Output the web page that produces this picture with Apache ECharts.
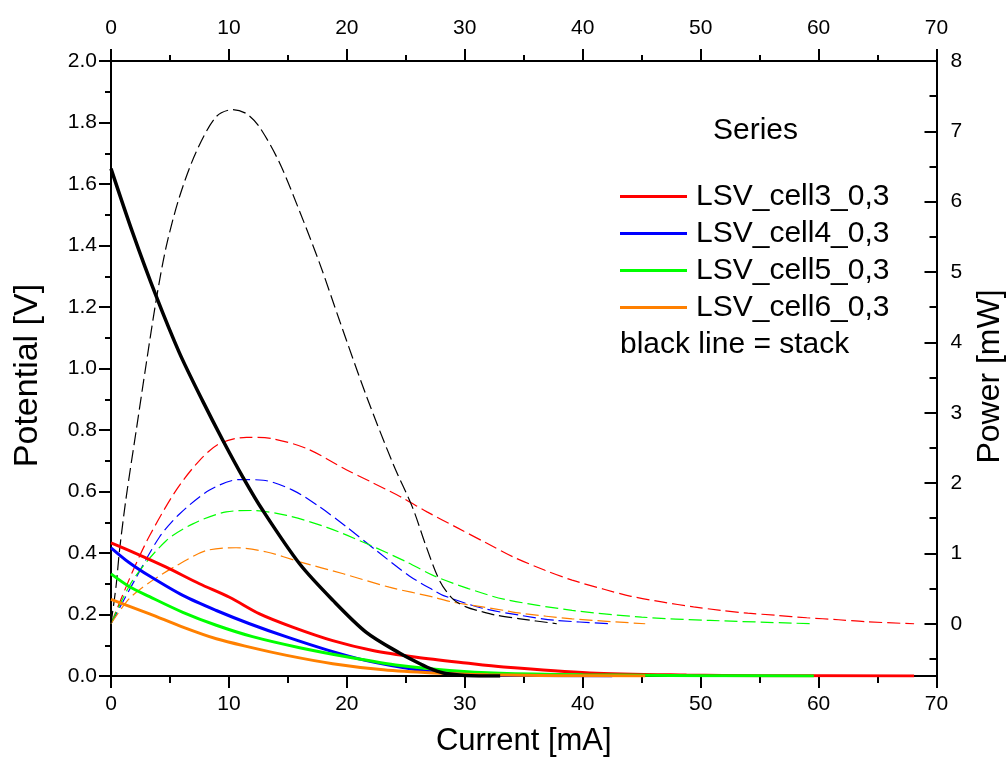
<!DOCTYPE html>
<html>
<head>
<meta charset="utf-8">
<script src="https://cdn.jsdelivr.net/npm/echarts@6/dist/echarts.min.js"></script>
<style>
html,body{margin:0;padding:0;background:#fff;overflow:hidden;}
#chart{width:1007px;height:758px;}
</style>
</head>
<body>
<div id="chart"></div>
<script>
// ---------- data ----------
const seriesNames = ['LSV_cell3_0,3', 'LSV_cell4_0,3', 'LSV_cell5_0,3', 'LSV_cell6_0,3'];
const stackName = 'stack';

// stack (black) voltage [V] vs current [mA]
const stackVoltI = [0, 1.85, 3.83, 5.81, 7.79, 9.49, 11.18, 12.88, 15.99, 18.82, 21.65, 24.5, 26.2, 27.3, 28.4, 30, 33];
const stackVoltV = [1.65, 1.44, 1.235, 1.05, 0.893, 0.766, 0.647, 0.538, 0.365, 0.246, 0.142, 0.074, 0.040, 0.021, 0.008, 0.002, 0.0];
// stack power [mW]
const stackPowI = [0, 0.44, 0.72, 1.29, 2.14, 2.99, 3.83, 4.68, 5.81, 7.23, 8.93, 10.34, 11.5, 12.6, 14.3, 16.0, 17.7, 19.4, 21.65, 23.9, 25.6, 26.7, 27.9, 29.0, 30.1, 31.5, 32.7, 34.7, 37.8];
const stackPowP = [0, 0.55, 1.04, 1.80, 2.75, 3.70, 4.60, 5.36, 6.07, 6.71, 7.21, 7.31, 7.25, 7.06, 6.55, 5.86, 5.12, 4.30, 3.24, 2.28, 1.64, 1.11, 0.60, 0.35, 0.24, 0.17, 0.12, 0.07, 0.0];

// cell3 (red)
const cell3VoltI = [0, 1.85, 4.68, 7.5, 10.05, 12.6, 15.4, 18.8, 22.2, 25.9, 30.1, 33.3, 40.6, 48.8, 55, 68.1];
const cell3VoltV = [0.433, 0.403, 0.354, 0.300, 0.256, 0.202, 0.159, 0.115, 0.083, 0.061, 0.042, 0.029, 0.010, 0.003, 0.001, 0.0];
const cell3PowI = [0, 1.85, 3.27, 5.53, 7.5, 9.2, 11.5, 13.7, 16.6, 19.95, 22.0, 24.5, 26.8, 29.3, 31.8, 34.1, 36.8, 39.1, 41.8, 44.1, 46.7, 49.4, 51.7, 54.0, 56.4, 59.0, 61.7, 64.0, 68.1];
const cell3PowP = [0, 0.75, 1.25, 1.90, 2.32, 2.56, 2.65, 2.63, 2.49, 2.19, 2.02, 1.81, 1.59, 1.37, 1.15, 0.95, 0.76, 0.62, 0.49, 0.39, 0.31, 0.24, 0.19, 0.15, 0.12, 0.085, 0.057, 0.028, 0.0];

// cell4 (blue)
const cell4VoltI = [0, 1.5, 3.27, 6.09, 8.93, 11.75, 14.9, 18.3, 21.65, 25.9, 28.4, 32, 36, 42.5];
const cell4VoltV = [0.417, 0.370, 0.325, 0.262, 0.213, 0.170, 0.127, 0.085, 0.050, 0.020, 0.009, 0.004, 0.002, 0.0];
const cell4PowI = [0, 1.85, 4.1, 5.81, 8.36, 10.9, 12.9, 15.4, 17.7, 19.95, 22.5, 25.3, 27.4, 28.2, 31.5, 34.7, 37.6, 42.5];
const cell4PowP = [0, 0.57, 1.23, 1.56, 1.90, 2.05, 2.04, 1.90, 1.66, 1.38, 1.04, 0.68, 0.47, 0.40, 0.22, 0.12, 0.05, 0.0];

// cell5 (green)
const cell5VoltI = [0, 1.5, 3.27, 6.09, 8.93, 12.0, 16.0, 20.2, 24.5, 28.7, 33.0, 40, 50, 59.6];
const cell5VoltV = [0.332, 0.292, 0.258, 0.207, 0.165, 0.128, 0.092, 0.061, 0.034, 0.018, 0.009, 0.004, 0.001, 0.0];
const cell5PowI = [0, 1.85, 4.68, 6.94, 9.77, 12.0, 14.9, 18.3, 21.65, 25.05, 27.4, 30.3, 33.3, 39.1, 45.0, 50.8, 59.6];
const cell5PowP = [0, 0.62, 1.18, 1.42, 1.59, 1.61, 1.54, 1.37, 1.14, 0.88, 0.68, 0.50, 0.35, 0.19, 0.094, 0.047, 0.0];

// cell6 (orange)
const cell6VoltI = [0, 3.27, 6.09, 8.93, 11.75, 14.9, 18.8, 23.1, 27.3, 32, 38, 45.3];
const cell6VoltV = [0.249, 0.202, 0.159, 0.121, 0.094, 0.067, 0.040, 0.020, 0.010, 0.004, 0.001, 0.0];
const cell6PowI = [0, 1.57, 3.55, 5.81, 8.08, 10.6, 13.2, 16.0, 19.7, 23.6, 27.3, 28.9, 31.5, 33.3, 34.7, 39.1, 45.3];
const cell6PowP = [0, 0.36, 0.62, 0.85, 1.04, 1.08, 1.02, 0.88, 0.71, 0.52, 0.38, 0.31, 0.24, 0.19, 0.15, 0.07, 0.0];

// axis ticks
const xTicks = [0, 10, 20, 30, 40, 50, 60, 70];
const vTicks = [0, 0.2, 0.4, 0.6, 0.8, 1.0, 1.2, 1.4, 1.6, 1.8, 2.0];
const pTicks = [0, 1, 2, 3, 4, 5, 6, 7, 8];
const powerAxisMin = -0.743;

// ---------- chart ----------
const FONT = "'Liberation Sans', Arial, sans-serif";
const zip = (xs, ys) => xs.map((x, i) => [x, ys[i]]);

const colors = ['#ff0000', '#0000ff', '#00ff00', '#ff8000'];
const voltI = [cell3VoltI, cell4VoltI, cell5VoltI, cell6VoltI];
const voltV = [cell3VoltV, cell4VoltV, cell5VoltV, cell6VoltV];
const powI = [cell3PowI, cell4PowI, cell5PowI, cell6PowI];
const powP = [cell3PowP, cell4PowP, cell5PowP, cell6PowP];

const SMOOTH = 0.3;
const series = [];
// power curves (dashed, right axis)
for (let k = 0; k < 4; k++) {
  series.push({
    name: seriesNames[k] + ' power', type: 'line', xAxisIndex: 0, yAxisIndex: 1,
    data: zip(powI[k], powP[k]), showSymbol: false, smooth: SMOOTH,
    lineStyle: { color: colors[k], width: 1.2, type: [13, 5] }, itemStyle: { color: colors[k] }, z: 2
  });
}
series.push({
  name: stackName + ' power', type: 'line', xAxisIndex: 0, yAxisIndex: 1,
  data: zip(stackPowI, stackPowP), showSymbol: false, smooth: SMOOTH,
  lineStyle: { color: '#000', width: 1.2, type: [13, 5] }, itemStyle: { color: '#000' }, z: 2
});
// voltage curves (solid, left axis)
for (let k = 0; k < 4; k++) {
  series.push({
    name: seriesNames[k], type: 'line', xAxisIndex: 0, yAxisIndex: 0,
    data: zip(voltI[k], voltV[k]), showSymbol: false, smooth: SMOOTH,
    lineStyle: { color: colors[k], width: 3 }, itemStyle: { color: colors[k] }, z: 3
  });
}
series.push({
  name: stackName, type: 'line', xAxisIndex: 0, yAxisIndex: 0,
  data: zip(stackVoltI, stackVoltV), showSymbol: false, smooth: SMOOTH,
  lineStyle: { color: '#000', width: 3.5 }, itemStyle: { color: '#000' }, z: 4
});

const lineBlack = { color: '#000', width: 2 };
const tickLabel = { color: '#000', fontSize: 21, fontFamily: FONT };

const option = {
  animation: false,
  backgroundColor: '#fff',
  grid: { left: 111, right: 70.5, top: 61, bottom: 82, containLabel: false, outerBoundsMode: 'none' },
  legend: {
    data: seriesNames,
    orient: 'vertical', left: 620, top: 178, padding: 0,
    icon: 'rect', itemWidth: 67, itemHeight: 3, itemGap: 0,
    textStyle: { color: '#000', fontSize: 30, fontFamily: FONT, lineHeight: 37, padding: [0, 0, 0, 4] },
    selectedMode: false
  },
  graphic: [
    { type: 'text', left: 713, top: 116, style: { text: 'Series', fill: '#000', font: '30px ' + FONT } },
    { type: 'text', left: 620, top: 330, style: { text: 'black line = stack', fill: '#000', font: '30px ' + FONT } }
  ],
  xAxis: [
    {
      type: 'value', position: 'bottom', min: xTicks[0], max: xTicks[xTicks.length - 1], interval: 10,
      axisLine: { show: true, onZero: false, lineStyle: lineBlack },
      axisTick: { show: true, inside: false, length: 12, lineStyle: lineBlack },
      minorTick: { show: true, splitNumber: 2, length: 7, lineStyle: lineBlack },
      splitLine: { show: false }, minorSplitLine: { show: false },
      axisLabel: Object.assign({ margin: 18, showMinLabel: true, showMaxLabel: true }, tickLabel),
      name: 'Current [mA]', nameLocation: 'middle', nameGap: 50,
      nameTextStyle: { color: '#000', fontSize: 31, fontFamily: FONT }
    },
    {
      type: 'value', position: 'top', min: xTicks[0], max: xTicks[xTicks.length - 1], interval: 10,
      axisLine: { show: true, onZero: false, lineStyle: lineBlack },
      axisTick: { show: true, inside: false, length: 12, lineStyle: lineBlack },
      minorTick: { show: true, splitNumber: 2, length: 6, lineStyle: lineBlack },
      splitLine: { show: false }, minorSplitLine: { show: false },
      axisLabel: Object.assign({ margin: 22, showMinLabel: true, showMaxLabel: true }, tickLabel)
    }
  ],
  yAxis: [
    {
      type: 'value', position: 'left', min: vTicks[0], max: vTicks[vTicks.length - 1], interval: 0.2,
      axisLine: { show: true, onZero: false, lineStyle: lineBlack },
      axisTick: { show: true, inside: false, length: 12, lineStyle: lineBlack },
      minorTick: { show: true, splitNumber: 2, length: 6, lineStyle: lineBlack },
      splitLine: { show: false }, minorSplitLine: { show: false },
      axisLabel: Object.assign({ margin: 14, showMinLabel: true, showMaxLabel: true, formatter: v => v.toFixed(1) }, tickLabel),
      name: 'Potential [V]', nameLocation: 'middle', nameGap: 66,
      nameTextStyle: { color: '#000', fontSize: 34, fontFamily: FONT, padding: [0, 14, 0, 0] }
    },
    {
      type: 'value', position: 'right', min: powerAxisMin, max: pTicks[pTicks.length - 1], splitNumber: 8,
      axisLine: { show: true, onZero: false, lineStyle: lineBlack },
      axisTick: { show: true, inside: true, length: 12, lineStyle: lineBlack },
      minorTick: { show: true, splitNumber: 2, length: 7, lineStyle: lineBlack },
      splitLine: { show: false }, minorSplitLine: { show: false },
      axisLabel: Object.assign({ margin: 14, formatter: v => (pTicks.indexOf(Math.round(v * 1000) / 1000) >= 0 ? String(Math.round(v)) : '') }, tickLabel),
      name: 'Power [mW]', nameLocation: 'middle', nameGap: 38,
      nameTextStyle: { color: '#000', fontSize: 32, fontFamily: FONT, padding: [0, 16, 0, 0] }
    }
  ],
  series: series
};

const chart = echarts.init(document.getElementById('chart'), null, { renderer: 'canvas' });
chart.setOption(option);
</script>
</body>
</html>
